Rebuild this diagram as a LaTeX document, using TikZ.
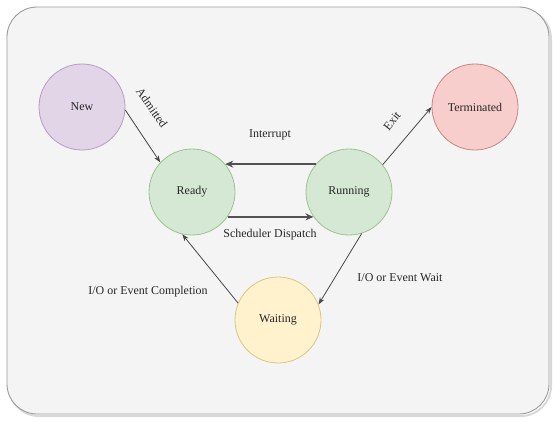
\documentclass[tikz,border=0pt]{standalone}
\usepackage{fontspec}
\setmainfont{Liberation Serif}
\usetikzlibrary{arrows.meta}
\definecolor{bgfill}{HTML}{F4F4F4}
\definecolor{bgline}{HTML}{9A9A9A}
\definecolor{txt}{HTML}{262626}
\definecolor{purfill}{HTML}{E1D5E7}\definecolor{purline}{HTML}{B79CC6}
\definecolor{grnfill}{HTML}{D5E8D4}\definecolor{grnline}{HTML}{9CC28F}
\definecolor{redfill}{HTML}{F8CECC}\definecolor{redline}{HTML}{C98582}
\definecolor{yelfill}{HTML}{FFF2CC}\definecolor{yelline}{HTML}{DCC57F}
\tikzset{
  state/.style={circle, minimum size=86bp, inner sep=0pt, line width=0.8pt,
    font=\fontsize{12}{14}\selectfont, text=txt},
  lbl/.style={font=\fontsize{12}{14}\selectfont, text=txt, inner sep=1pt},
  conn/.style={draw=txt!85, line width=0.8pt, -{Stealth[length=7pt,width=5pt]}},
  thick conn/.style={draw=txt!80, line width=2pt, -{Stealth[length=8pt,width=7pt]}}
}
\begin{document}
\begin{tikzpicture}[x=1bp,y=-1bp]
\useasboundingbox (0,0) rectangle (553,422);
\fill[white] (0,0) rectangle (553,422);
\draw[gray!30, line width=2pt, rounded corners=30bp] (9,9) rectangle (551,416);
\draw[bgline, fill=bgfill, line width=0.9pt, rounded corners=30bp] (7,7) rectangle (549,414);

\node[state, fill=purfill, draw=purline] (new) at (82,107) {New};
\node[state, fill=grnfill, draw=grnline] (ready) at (192,192) {Ready};
\node[state, fill=grnfill, draw=grnline] (running) at (349,192) {Running};
\node[state, fill=redfill, draw=redline] (term) at (475,107) {Terminated};
\node[state, fill=yelfill, draw=yelline] (wait) at (278,320) {Waiting};

\draw[conn] (new.-4) -- (ready.137);
\draw[thick conn] (running.140) -- (ready.40);
\draw[thick conn] (ready.-35) -- (running.-145);
\draw[conn] (running.-73) -- (wait.21);
\draw[conn] (wait.157) -- (ready.-103);
\draw[conn] (running.39) -- (term.180);

\node[lbl, rotate=-55] (ladm) at (152,108) {Admitted};
\node[lbl] (lint) at (270,135) {Interrupt};
\node[lbl, rotate=51] (lexit) at (392,121) {Exit};
\node[lbl] (lsch) at (270,235) {Scheduler Dispatch};
\node[lbl] (lwait) at (400,278) {I/O or Event Wait};
\node[lbl] (lcomp) at (148,292) {I/O or Event Completion};
\end{tikzpicture}
\end{document}
